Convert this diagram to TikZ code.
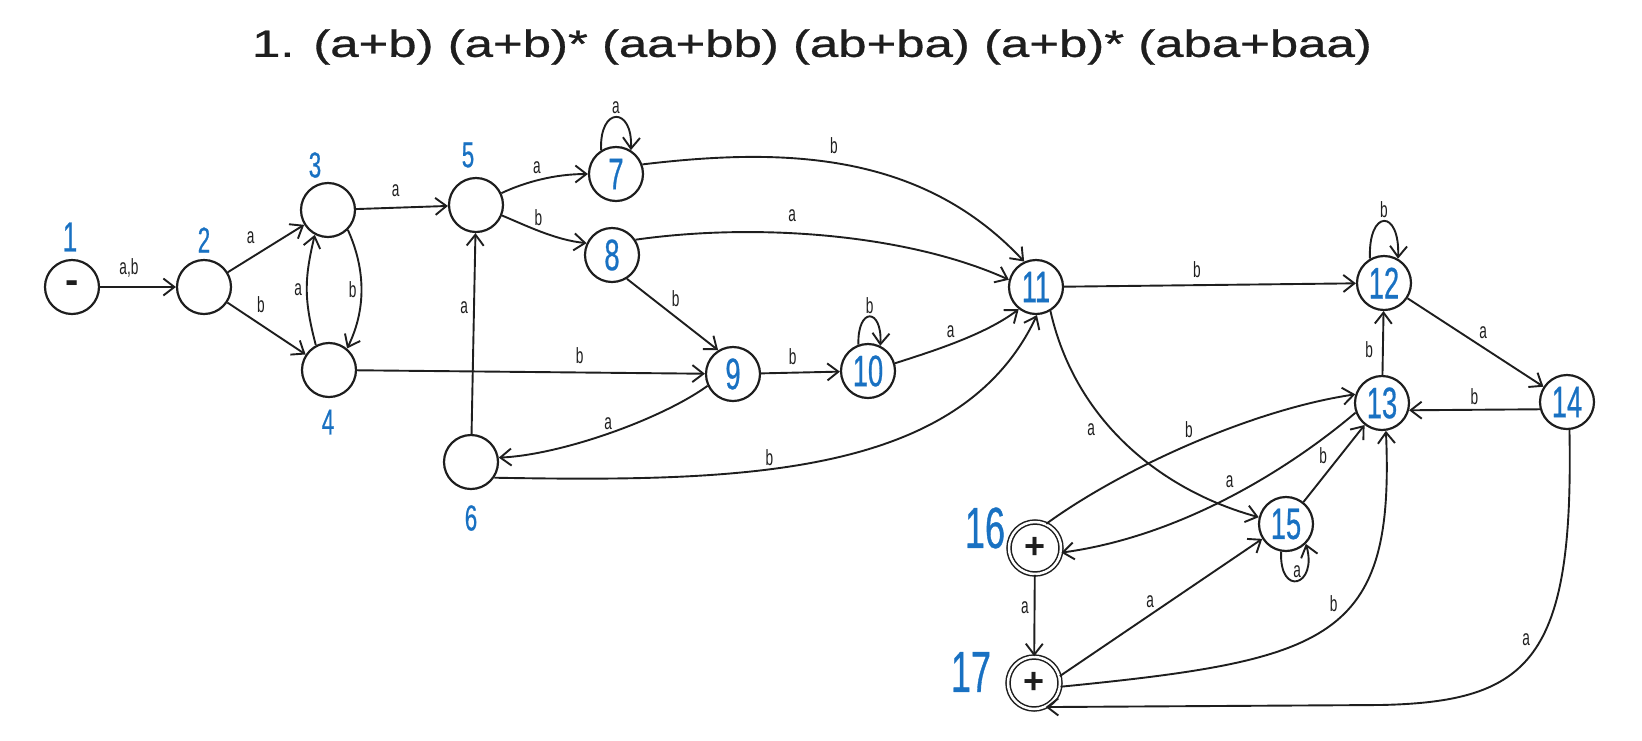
\documentclass[tikz,border=0pt]{standalone}
\usepackage{fontspec}
\setmainfont{Liberation Sans}
\newfontfamily\hand[FakeStretch=0.62]{Liberation Sans}
\newfontfamily\bluef[FakeStretch=0.62,FakeBold=0.6]{Liberation Sans}
\newfontfamily\titlef[FakeStretch=1.34,FakeBold=0.8]{Liberation Sans}
\usetikzlibrary{arrows.meta}
\definecolor{ink}{HTML}{1E1E1E}
\definecolor{blu}{HTML}{1971C2}
\begin{document}
\begin{tikzpicture}[x=1pt,y=-1pt,
  st/.style={circle,draw=ink,line width=2.2pt,minimum size=54pt,inner sep=0pt,text=blu,font=\bluef\fontsize{44}{44}\selectfont},
  fin/.style={st,double=white,double distance=2.5pt,line width=1.5pt,minimum size=52pt,text=ink,font=\bfseries\fontsize{36}{36}\selectfont},
  e/.style={draw=ink,line width=1.9pt,-{Straight Barb[length=11pt,width=17pt,line width=1.9pt]}},
  lab/.style={font=\hand\fontsize{22}{22}\selectfont,text=ink,inner sep=0pt},
  num/.style={font=\bluef\fontsize{36}{36}\selectfont,text=blu,inner sep=0pt},
  bignum/.style={font=\bluef\fontsize{58}{58}\selectfont,text=blu,inner sep=0pt},
]
\useasboundingbox (0,0) rectangle (1642,740);
\node[font=\titlef\fontsize{38}{38}\selectfont,text=ink] (title) at (812,47) {1. (a+b) (a+b)* (aa+bb) (ab+ba) (a+b)* (aba+baa)};

\node[st,text=ink,font=\bfseries\fontsize{40}{40}\selectfont] (n1) at (72,287) {-};
\node[st] (n2) at (204,287) {};
\node[st] (n3) at (328,210) {};
\node[st] (n4) at (329,370) {};
\node[st] (n5) at (476,205) {};
\node[st] (n6) at (471,462) {};
\node[st] (n7) at (616,174) {7};
\node[st] (n8) at (612,255) {8};
\node[st] (n9) at (733,374) {9};
\node[st] (n10) at (868,371) {10};
\node[st] (n11) at (1036,287) {11};
\node[st] (n12) at (1384,283) {12};
\node[st] (n13) at (1382,403) {13};
\node[st] (n14) at (1567,402) {14};
\node[st] (n15) at (1286,524) {15};
\node[fin] (n16) at (1035,548) {+};
\node[fin] (n17) at (1034,683) {+};

\node[num,font=\bluef\fontsize{42}{42}\selectfont] (l1) at (70,237) {1};
\node[num] (l2) at (204,240) {2};
\node[num] (l3) at (315,165) {3};
\node[num] (l4) at (328,422) {4};
\node[num] (l5) at (468,155) {5};
\node[num] (l6) at (471,518) {6};
\node[bignum] (l16) at (985,528) {16};
\node[bignum] (l17) at (971,672) {17};

\draw[e] (n1) -- node[lab,pos=0.38,above=9pt]{a,b} (n2);
\draw[e] (n2) -- node[lab,pos=0.3,above=13pt]{a} (n3);
\draw[e] (n2) -- node[lab,pos=0.43,above=11pt]{b} (n4);
\draw[e] (n3.-45) .. controls (366,270) and (366,310) .. node[lab,left=4pt]{b} (n4.50);
\draw[e] (n4.118) .. controls (304,300) and (304,280) .. node[lab,left=4pt]{a} (n3.-118);
\draw[e] (n3) -- node[lab,pos=0.43,above=10pt]{a} (n5);
\draw[e] (n4) -- node[lab,pos=0.64,above=8pt]{b} (n9);
\draw[e] (n6) -- node[lab,pos=0.63,left=5pt]{a} (n5);
\draw[e] (n5.25) .. controls (525,182) and (555,174) .. node[lab,pos=0.45,above=6pt]{a} (n7.west);
\draw[e] (n5.-22) .. controls (525,225) and (555,240) .. node[lab,pos=0.47,above=4pt]{b} (n8.155);
\draw[e] (n7.122) .. controls +(-2,-44) and +(2,-44) .. node[lab,above=3pt]{a} (n7.58);
\draw[e] (n7.20) .. controls (780,148) and (920,150) .. node[lab,pos=0.47,above=8pt]{b} (n11.115);
\draw[e] (n8.33) .. controls (760,222) and (910,235) .. node[lab,pos=0.4,above=11pt]{a} (n11.165);
\draw[e] (n8.-58) -- node[lab,pos=0.45,above right=3pt]{b} (n9.122);
\draw[e] (n9) -- node[lab,pos=0.4,above=7pt]{b} (n10);
\draw[e] (n10.110) .. controls +(-1,-38) and +(2,-38) .. node[lab,above=2pt]{b} (n10.64);
\draw[e] (n10.16) .. controls (930,352) and (985,335) .. node[lab,pos=0.45,above=6pt]{a} (n11.232);
\draw[e] (n9.205) .. controls (660,420) and (560,455) .. node[lab,pos=0.5,above=3pt]{a} (n6.9);
\draw[e] (n6.-34) .. controls (740,482) and (960,478) .. node[lab,pos=0.4,above=3pt]{b} (n11.-88);
\draw[e] (n11) -- node[lab,pos=0.455,above=6pt]{b} (n12);
\draw[e] (n11.-59) .. controls (1075,420) and (1160,490) .. node[lab,pos=0.43,left=16pt]{a} (n15.166);
\draw[e] (n12.120) .. controls +(-2,-50) and +(2,-50) .. node[lab,above=3pt]{b} (n12.60);
\draw[e] (n12) -- node[lab,pos=0.5,above right=3pt]{a} (n14);
\draw[e] (n13) -- node[lab,pos=0.4,left=9pt]{b} (n12);
\draw[e] (n14.195) -- node[lab,pos=0.5,above=4pt]{b} (n13.-15);
\draw[e] (n16.65) .. controls (1120,470) and (1250,410) .. node[lab,pos=0.5,above=6pt]{b} (n13.162);
\draw[e] (n13.200) .. controls (1300,460) and (1190,535) .. node[lab,pos=0.52,above=8pt]{a} (n16.-10);
\draw[e] (n15) -- node[lab,pos=0.45,above left=3pt]{b} (n13);
\draw[e] (n15.-100) .. controls +(-2,46) and +(12,42) .. node[lab,above=2pt]{a} (n15.-45);
\draw[e] (n16) -- node[lab,pos=0.4,left=5pt]{a} (n17);
\draw[e] (n17.15) -- node[lab,pos=0.48,above left=2pt]{a} (n15.212);
\draw[e] (n17.-8) .. controls (1330,660) and (1395,640) .. node[lab,pos=0.55,above left=3pt]{b} (n13.-82);
\draw[e] (n14.-85) .. controls (1574,660) and (1530,702) .. node[lab,pos=0.45,left=10pt]{a} (1380,705) -- (n17.-64);
\end{tikzpicture}
\end{document}
